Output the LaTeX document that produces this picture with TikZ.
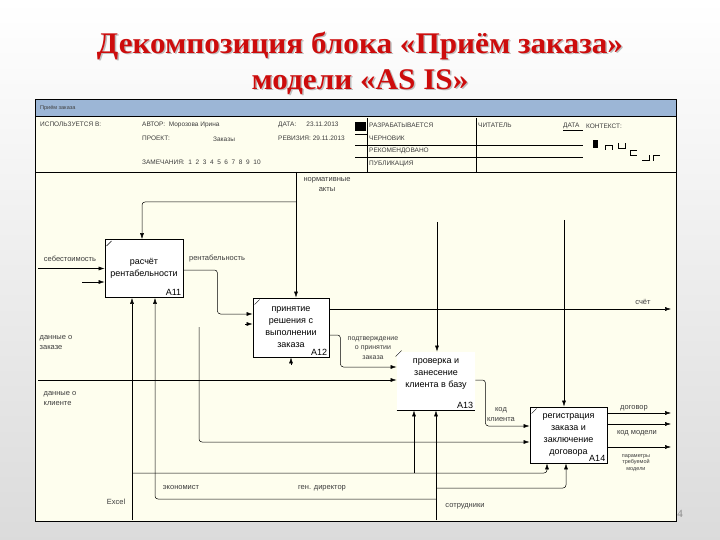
\documentclass[tikz,border=0pt]{standalone}
\usepackage{fontspec}
\setmainfont{Liberation Sans}
\newfontfamily\titlefont{Liberation Serif}
\newfontfamily\titlewide[FakeStretch=1.04]{Liberation Serif}
\usetikzlibrary{shapes,arrows.meta,positioning}

\definecolor{diagbg}{RGB}{254,254,238}
\definecolor{barblue}{RGB}{156,182,214}
\definecolor{titlered}{RGB}{205,12,12}
\definecolor{inkgray}{RGB}{60,60,60}

\tikzset{
  ttl/.style={inner sep=0pt,align=center,text=titlered,font=\titlewide\bfseries\fontsize{30}{36}\selectfont},
  blk/.style={draw,line width=0.9pt,fill=white,inner sep=0pt,align=center,font=\fontsize{9}{12}\selectfont},
  bxt/.style={inner sep=0pt,align=center,font=\fontsize{9}{12}\selectfont},
  num/.style={inner sep=0pt,font=\fontsize{9}{10}\selectfont},
  lbl/.style={inner sep=0pt,align=center,text=inkgray,font=\fontsize{7.5}{10}\selectfont},
  hdr/.style={inner sep=0pt,anchor=base west,text=inkgray,font=\fontsize{6.5}{7}\selectfont},
  flow/.style={-{Latex[length=6pt,width=4pt]},line width=0.5pt,rounded corners=3pt},
  wire/.style={line width=0.5pt},
}

\begin{document}
\begin{tikzpicture}[x=1pt,y=-1pt]
\useasboundingbox (0,0) rectangle (720,540);
\shade[top color=white,bottom color=black!14] (0,0) rectangle (720,540);

% title
\node[ttl,text=black!25] (ttlsh) at (361.5,64.5) {Декомпозиция блока «Приём заказа»\\модели «AS IS»};
\node[ttl] (ttl) at (360,63) {Декомпозиция блока «Приём заказа»\\модели «AS IS»};

% frame
\fill[diagbg] (35,100) rectangle (676,521);
\fill[barblue] (35,100) rectangle (676,116);
\node[hdr,text=black!75,font=\fontsize{5.5}{6}\selectfont] (bar) at (40,110) {Приём заказа};
\draw[line width=1pt] (35,100) rectangle (676,521);
\draw[wire] (35,116) -- (676,116);
\draw[line width=0.8pt] (35,172) -- (676,172);

% header
\node[hdr] (used) at (40,127) {ИСПОЛЬЗУЕТСЯ В:};
\node[hdr] (author) at (142,127) {АВТОР: \ Морозова Ирина};
\node[hdr] (date1) at (278,127) {ДАТА: \quad\ 23.11.2013};
\node[hdr] (proj) at (142,141) {ПРОЕКТ:};
\node[hdr] (projn) at (213,142) {Заказы};
\node[hdr] (rev) at (278,141) {РЕВИЗИЯ: 29.11.2013};
\node[hdr] (notes) at (142,165) {ЗАМЕЧАНИЯ: \ 1 \ 2 \ 3 \ 4 \ 5 \ 6 \ 7 \ 8 \ 9 \ 10};
\fill (355,122) rectangle (366,131);
\node[hdr] (st1) at (369,128) {РАЗРАБАТЫВАЕТСЯ};
\node[hdr] (st2) at (369,141) {ЧЕРНОВИК};
\node[hdr] (st3) at (369,153) {РЕКОМЕНДОВАНО};
\node[hdr] (st4) at (369,166) {ПУБЛИКАЦИЯ};
\node[hdr] (reader) at (478,128) {ЧИТАТЕЛЬ};
\node[hdr] (date2) at (563,128) {ДАТА};
\node[hdr] (ctx) at (586,129) {КОНТЕКСТ:};
\draw[wire] (367,118) -- (367,172);
\draw[wire] (476,118) -- (476,172);
\draw[wire] (355,134) -- (367,134);
\draw[wire] (355,145) -- (583,145);
\draw[wire] (355,157) -- (583,157);
\draw[wire] (563,130.5) -- (583,130.5);
% context icons
\fill (593,140) rectangle (598,148);
\draw[wire] (605,150) -- (605,145) -- (612,145) -- (612,150);
\draw[wire] (618,143) -- (618,148) -- (625,148) -- (625,143);
\draw[wire] (637,150) -- (630,150) -- (630,155) -- (637,155);
\draw[wire] (642,160) -- (649,160) -- (649,155);
\draw[wire] (653,161) -- (653,155) -- (660,155);

% boxes
\node[blk,minimum width=78pt,minimum height=58pt] (a11) at (144,268.5) {расчёт\\рентабельности};
\node[blk,minimum width=76pt,minimum height=59pt] (a12) at (291,327.5) {принятие\\решения с\\выполнении\\заказа};
\node[blk,draw=none,minimum width=78pt,minimum height=58pt] (a13) at (436,381) {};
\node[bxt] (a13t) at (436,374) {проверка и\\занесение\\клиента в базу};
\draw[line width=0.9pt] (a13.south west) -- (a13.south east);
\node[blk,minimum width=77pt,minimum height=56pt] (a14) at (568.5,435) {регистрация\\заказа и\\заключение\\договора};
\node[num,anchor=south east] (a11n) at ([xshift=-2pt,yshift=2pt]a11.south east) {A11};
\node[num,anchor=south east] (a12n) at ([xshift=-2pt,yshift=2pt]a12.south east) {A12};
\node[num,anchor=south east] (a13n) at ([xshift=-2pt,yshift=2pt]a13.south east) {A13};
\node[num,anchor=south east] (a14n) at ([xshift=-2pt,yshift=2pt]a14.south east) {A14};
\foreach \b in {a11,a12,a14}
  \draw[wire] ([xshift=2pt,yshift=-7pt]\b.north west) -- ([xshift=7pt,yshift=-2pt]\b.north west);
\draw[wire] ([xshift=-1pt,yshift=-5pt]a13.north west) -- ([xshift=5pt,yshift=1pt]a13.north west);

% inputs
\coordinate (sebIn) at (38,268.5);
\draw[flow] (sebIn) -- (a11.west);
\coordinate (a11stub) at (82,282);
\draw[flow] (a11stub) -- (a11.west |- a11stub);
\draw[flow] ([yshift=-1.5pt]a11.east) -- ++(34,0) |- ([yshift=13.5pt]a12.west);
\coordinate (a12stub) at (245,324);
\draw[flow] (a12stub) -- (a12.west |- a12stub);
\coordinate (cliIn) at (38,380);
\draw[flow] (cliIn) -- (a13.west |- cliIn);
\draw[flow] ([yshift=-7.5pt]a12.east) -- ++(11,0) |- ([yshift=14pt]a13.west);
\draw[flow] (a13.east |- cliIn) -- ++(10,0) |- ([yshift=9pt]a14.west);
\coordinate (a14in2) at (199,327);
\draw[flow] (a14in2) |- ([yshift=-7pt]a14.west);

% controls
\coordinate (normIn) at (296,172);
\draw[flow] (normIn) -- (normIn |- a12.north);
\coordinate (normBr) at (296,202);
\draw[flow] (normBr) -| ([xshift=-2pt]a11.north);
\coordinate (a13ctl) at (437,222);
\draw[flow] (a13ctl) -- (a13ctl |- a13.north);
\coordinate (a14ctl) at (564,220);
\draw[flow] (a14ctl) -- (a14ctl |- a14.north);

% outputs
\coordinate (schetOut) at (671,309);
\draw[flow] (a12.east |- schetOut) -- (schetOut);
\coordinate (dogOut) at (671,413);
\draw[flow] (a14.east |- dogOut) -- (dogOut);
\coordinate (modOut) at (671,424);
\draw[flow] (a14.east |- modOut) -- (modOut);
\coordinate (parOut) at (671,447);
\draw[flow] (a14.east |- parOut) -- (parOut);

% mechanisms
\coordinate (excelIn) at (132,520);
\draw[flow] (excelIn) -- (excelIn |- a11.south);
\coordinate (excelBr) at (132,473);
\draw[flow] (excelBr) -| ([xshift=-21.5pt]a14.south);
\draw[flow] ([xshift=-22pt]a13.south |- excelBr) -- ([xshift=-22pt]a13.south);
\coordinate (staffIn) at (436,520);
\draw[flow] (staffIn) -- (a13.south);
\coordinate (staffBr1) at (436,488);
\draw[flow] (staffBr1) -| ([xshift=-2.5pt]a14.south);
\coordinate (staffBr2) at (436,499);
\draw[flow] (staffBr2) -| ([xshift=11pt]a11.south);
\coordinate (a12mech) at (291,365);
\draw[flow] (a12mech) -- (a12.south);

% labels
\node[lbl] (lnorm) at (327,185) {нормативные\\акты};
\node[lbl] (lseb) at (70,259) {себестоимость};
\node[lbl] (lrent) at (217,259) {рентабельность};
\node[lbl,align=left] (lord) at (56,343) {данные о\\заказе};
\node[lbl,align=left] (lcli) at (60,399) {данные о\\клиенте};
\node[lbl,font=\fontsize{7}{9.5}\selectfont] (lconf) at (373,348) {подтверждение\\о принятии\\заказа};
\node[lbl] (lschet) at (643,302) {счёт};
\node[lbl] (lcode) at (501,415) {код\\клиента};
\node[lbl] (ldog) at (634,408) {договор};
\node[lbl] (lmod) at (637,433) {код модели};
\node[lbl,font=\fontsize{5.5}{6.5}\selectfont] (lpar) at (636,463) {параметры\\требуемой\\модели};
\node[lbl] (leco) at (181,488) {экономист};
\node[lbl] (ldir) at (322,488) {ген. директор};
\node[lbl] (lexc) at (116,502) {Excel};
\node[lbl] (lstaff) at (465,506) {сотрудники};

\node[text=black!45,font=\titlefont\fontsize{11}{12}\selectfont,inner sep=0pt] (page) at (680,514) {4};
\end{tikzpicture}
\end{document}
